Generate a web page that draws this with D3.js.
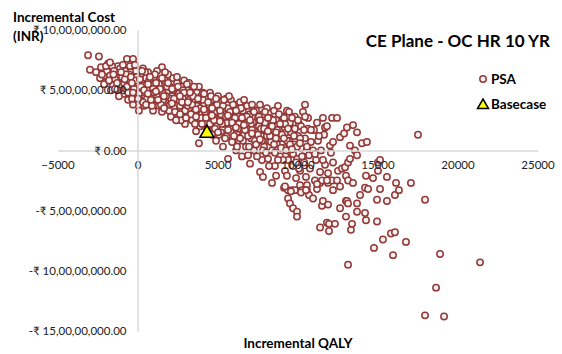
<!DOCTYPE html>
<html>
<head>
<meta charset="utf-8">
<script src="https://cdn.jsdelivr.net/npm/d3@7"></script>
<style>
  body { margin: 0; background: #fff; }
  svg { display: block; font-family: Lato, "Liberation Sans", sans-serif; }
</style>
</head>
<body>
<svg></svg>
<script>
// chart values: incremental QALY and incremental cost (in crore INR)
var xTicks = [-5000, 0, 5000, 10000, 15000, 20000, 25000];
var yTicks = [10, 5, 0, -5, -10, -15];

var basecase = [[4340, 1.5]];

var psaPoints = [
  [-3090,7.9],[-2410,7.8],[-2970,6.7],[-2280,6.9],[-2090,6.2],[-1840,7.2],[-1220,7.0],[-660,7.6],[-280,7.6],[1530,6.9],
  [-2590,6.5],[-2340,6.0],[-2030,5.6],[-1910,6.6],[-1720,6.2],[-1590,7.0],[-1530,5.4],[-1410,5.9],[-1340,6.5],[-1220,5.0],
  [-1090,6.8],[-1030,5.5],[-970,6.1],[-840,4.7],[-780,6.6],[-720,5.1],[-660,5.8],[-590,4.2],[-530,6.3],[-470,4.7],
  [-410,5.4],[-340,7.0],[-280,3.8],[-220,6.0],[-160,4.5],[-90,6.6],[-30,5.1],[30,5.6],[90,3.3],[160,4.2],
  [220,6.2],[280,4.8],[340,6.8],[410,3.7],[470,5.4],[530,6.0],[590,4.3],[660,6.5],[720,5.0],[780,3.8],
  [840,5.6],[910,4.6],[970,3.3],[1030,6.1],[1090,5.1],[1160,4.2],[1220,6.6],[1280,5.5],[1340,3.7],[1410,4.6],
  [1470,5.8],[1530,3.2],[1590,5.1],[1660,4.2],[1720,5.8],[1780,3.5],[1840,4.8],[1910,6.3],[1970,4.0],[2030,5.3],
  [2090,2.8],[2160,4.5],[2220,6.0],[2280,3.5],[2340,5.0],[2410,4.2],[2470,5.6],[2530,2.7],[2590,4.7],[2660,3.7],
  [2720,5.3],[2780,3.2],[2840,4.3],[2910,5.8],[2970,2.2],[3030,3.8],[3090,5.0],[3160,2.8],[3220,5.6],[3280,3.5],
  [3340,4.5],[3410,2.5],[3470,5.1],[3530,3.2],[3590,4.2],[3660,1.6],[3720,4.8],[3780,2.7],[3840,0.6],[3840,3.7],
  [3910,2.0],[3970,4.5],[4030,3.0],[4090,4.8],[4160,3.8],[4220,2.3],[4280,3.3],[4340,4.3],[4410,1.8],[4470,2.8],
  [4530,4.8],[4590,3.7],[4660,1.3],[4720,2.3],[4780,4.2],[4840,3.2],[4910,0.8],[4970,2.0],[5030,4.5],[5090,3.5],
  [5160,2.7],[5220,1.5],[5280,4.0],[5340,0.3],[5410,3.0],[5470,2.2],[5530,4.3],[5590,1.2],[5660,3.5],[5660,-0.7],
  [5720,2.5],[5780,1.8],[5840,4.2],[5910,0.7],[5970,3.2],[6030,2.2],[6090,3.8],[6160,0.0],[6220,1.5],[6280,2.8],
  [6340,0.8],[6410,4.0],[6470,2.0],[6530,-0.5],[6590,3.3],[6660,1.3],[6720,2.5],[6780,0.3],[6840,3.7],[6910,-0.4],
  [6970,1.8],[7030,-1.1],[7030,3.0],[7090,1.0],[7160,3.8],[7220,2.3],[7280,0.0],[7340,1.5],[7410,3.3],[7470,0.7],
  [7530,2.7],[7590,2.0],[7660,-1.8],[7660,3.8],[7720,1.2],[7780,-0.8],[7840,-2.2],[7840,3.0],[7910,0.3],[7970,2.3],
  [8030,1.7],[8090,3.5],[8160,-0.7],[8220,0.8],[8280,2.7],[8340,2.0],[8410,-2.7],[8410,0.0],[8470,1.3],[8530,3.3],
  [8590,-1.3],[8660,-2.1],[8660,2.5],[8720,0.5],[8780,3.7],[8840,1.7],[8910,-0.5],[8970,1.0],[9030,2.8],[9090,2.2],
  [9160,-3.1],[9160,0.2],[9220,-1.7],[9280,1.5],[9340,-2.1],[9340,3.3],[9410,-3.3],[9410,-4.0],[9410,-0.8],[9470,0.8],
  [9530,-4.4],[9530,2.3],[9590,-0.2],[9660,-3.3],[9660,1.7],[9720,-4.8],[9720,-1.3],[9780,0.5],[9840,-3.3],[9840,2.8],
  [9910,-2.3],[9970,-5.1],[9970,-5.5],[9970,-0.7],[10030,1.2],[10090,2.2],[10160,-2.9],[10160,-1.7],[10220,0.2],[10280,-3.3],
  [10340,3.2],[10410,-1.0],[10470,3.8],[10470,1.0],[10530,-2.2],[10590,-2.9],[10590,-3.3],[10660,1.8],[10660,2.7],[10720,-0.4],
  [10720,-3.7],[10780,-1.5],[10840,0.7],[10970,-4.0],[10970,0.0],[11030,1.7],[11090,-2.5],[11160,-0.8],[11220,-3.2],[11220,2.3],
  [11280,0.8],[11410,-2.7],[11410,-6.4],[11410,-1.8],[11470,0.0],[11530,-2.5],[11530,-4.6],[11590,2.7],[11590,-4.2],[11660,1.3],
  [11720,1.9],[11720,-1.2],[11840,-6.0],[11910,-2.7],[11910,-4.5],[11970,-6.1],[11970,-6.7],[12030,0.4],[12160,2.7],[12160,-2.5],
  [12220,0.7],[12220,-1.0],[12340,-6.1],[12470,2.7],[12470,-2.5],[12530,-1.7],[12660,1.1],[12660,-4.8],[12780,-1.5],[12910,1.4],
  [12970,-1.4],[13030,-2.1],[13030,-4.2],[13030,-5.5],[13090,1.9],[13090,-4.2],[13160,-2.5],[13160,-4.4],[13160,-1.0],[13280,0.4],
  [13280,-0.7],[13340,-6.6],[13410,-6.1],[13470,2.1],[13470,-2.7],[13590,0.0],[13720,1.5],[13720,-0.4],[13720,-4.4],[13720,-5.1],
  [13910,-3.7],[14030,0.6],[14220,-3.1],[14220,-5.2],[14280,-2.1],[14280,-5.8],[14340,0.7],[14410,-3.2],[14720,-2.3],[14780,-8.1],
  [14970,-4.1],[14970,-5.9],[15030,-1.0],[15030,-1.7],[15160,-0.8],[15160,-3.2],[15340,-7.4],[15590,-2.2],[15590,-4.2],[15840,-6.9],
  [15970,-8.7],[16090,-6.8],[16090,-3.7],[16160,-2.7],[16340,-3.3],[16780,-7.6],[17090,-2.7],[17530,1.3],[17970,-4.1],[17970,-13.7],
  [18660,-11.4],[18910,-8.6],[19160,-13.8],[21410,-9.3],[13160,-9.5],[12220,-3.3],[12660,-3.0],[11220,-2.8],[11840,-2.5],[11910,-1.9],
  [10220,-3.5],[9590,-3.4],[9220,-3.0],[10530,-3.3],
  [-2220,6.3],[-2090,5.5],[-1970,7.0],[-1780,5.8],[-1660,5.0],[-1470,6.6],[-1280,5.6],[-1160,4.5],[-910,7.1],[-840,5.6],
  [-720,6.3],[-590,4.8],[-470,7.0],[-340,4.3],[-220,5.1],[-160,7.1],[-30,6.1],[90,4.7],[220,5.3],[340,4.0],
  [470,6.5],[590,5.0],[720,5.8],[840,4.2],[970,5.1],[1090,6.3],[1220,4.5],[1340,5.5],[1470,3.8],[1590,4.7],
  [1720,6.5],[1840,5.3],[1970,3.3],[2090,4.3],[2220,5.0],[2340,3.2],[2470,6.1],[2590,4.2],[2720,2.5],[2840,5.0],
  [2970,3.3],[3090,5.5],[3220,4.2],[3340,3.0],[3470,4.5],[3590,2.2],[3720,3.7],[3840,5.3],[3970,2.7],[4090,4.2],
  [4220,3.2],[4340,1.7],[4470,3.8],[4590,4.5],[4720,2.8],[4840,1.8],[4970,3.8],[5090,1.3],[5220,3.0],[5340,3.7],
  [5470,1.0],[5590,2.3],[5720,4.5],[5840,1.5],[5970,3.8],[6090,2.7],[6220,0.3],[6340,2.2],[6470,3.5],[6590,0.8],
  [6720,1.7],[6840,2.8],[6970,0.3],[7090,2.2],[7220,3.3],[7340,0.8],[7470,-0.5],[7590,2.8],[7720,1.8],[7840,0.0],
  [7970,3.2],[8090,1.2],[8220,-1.3],[8340,0.7],[8470,2.5],[8590,-0.2],[8720,1.7],[8840,3.0],[8970,0.2],[9090,-0.8],
  [9220,2.2],[9340,0.8],[9470,3.2],[9590,1.5],[9720,-0.3],[9840,1.8],[9970,0.3],[10090,-1.5],[10220,2.0],[10340,-0.5],
  [10470,2.8],[10590,0.3],[10840,1.7],[11090,-0.3],[11340,1.2],[11590,-0.8],[11840,2.0],[12090,-0.2],
  [-1720,7.3],[-1410,5.1],[-1030,6.5],[-660,5.3],[-410,6.1],[-280,4.8],[-90,5.8],[30,4.3],[280,6.6],[410,5.0],
  [530,3.8],[660,5.5],[780,6.1],[910,3.7],[1030,4.8],[1160,5.6],[1280,4.2],[1410,5.1],[1530,6.0],[1660,3.5],
  [1780,4.5],[1910,5.6],[2030,3.8],[2160,5.1],[2280,4.3],[2410,2.5],[2530,5.3],[2660,3.0],[2780,4.0],[2910,4.8],
  [3030,2.7],[3160,3.7],[3280,4.8],[3410,3.8],[3530,5.3],[3660,2.8],[3780,4.3],[3910,3.5],[4030,2.2],[4160,4.7],
  [4280,2.7],[4410,4.0],[4530,2.2],[4660,3.5],[4780,2.5],[4910,4.3],[5030,1.5],[5160,3.3],[5280,2.2],[5410,4.2],
  [5530,2.8],[5660,1.7],[5780,3.2],[5910,2.3],[6030,1.2],[6160,3.3],[6280,1.8],[6410,1.0],[6530,2.7],[6660,4.2],
  [6780,2.2],[6910,1.2],[7030,2.5],[7160,1.7],[7280,3.2],[7410,0.5],[7530,1.3],[7660,2.5],[7780,0.8],[7910,1.8],
  [8030,-0.2],[8160,2.7],[8280,1.2],[8410,2.0],[8530,0.5],[8660,1.5],[8780,-0.8],[8910,2.2],[9030,1.3],[9160,2.7],
  [9280,0.0],[9410,1.8],[9530,0.5],[9660,2.7],[9780,1.2],[9910,-1.0],[10030,2.5],[10160,1.0],[10280,-0.5],[10410,1.7],
  [-1500,6.3],[-800,5.9],[-350,5.6],[150,5.9],[650,4.7],[1150,4.9],[1650,4.5],[2150,3.9],[2650,4.5],[3150,4.0],
  [3650,3.4],[4150,3.4],[4650,2.9],[5150,2.4],[5650,2.9],[6150,1.9],[6650,2.1],[7150,1.4],[7650,0.9],[8150,1.6],
  [8650,1.0],[9150,1.0],[9650,0.1],[10150,0.6]
];

var width = 562, height = 354;

var svg = d3.select("svg")
    .attr("width", width)
    .attr("height", height);

svg.append("rect").attr("width", width).attr("height", height).attr("fill", "#fff");

var x = d3.scaleLinear().domain([-5000, 25000]).range([57.5, 537.5]);
var y = d3.scaleLinear().domain([-15, 10]).range([331, 30]);

// indian number grouping, value given in crore
function inr(v) {
    var n = Math.round(Math.abs(v) * 1e7);
    var s = String(n);
    var out = s;
    if (s.length > 3) {
        var last = s.slice(-3), rest = s.slice(0, -3);
        rest = rest.replace(/\B(?=(\d{2})+(?!\d))/g, ",");
        out = rest + "," + last;
    }
    return (v < 0 ? "-\u20B9 " : "\u20B9 ") + out + ".00";
}

var xAxis = svg.append("g")
    .attr("transform", "translate(0," + y(0) + ")")
    .call(d3.axisBottom(x).tickValues(xTicks).tickSize(0).tickPadding(10).tickFormat(d3.format("d")));

var yAxis = svg.append("g")
    .attr("transform", "translate(" + x(0) + ",0)")
    .call(d3.axisLeft(y).tickValues(yTicks).tickSize(0).tickPadding(11).tickFormat(inr));

[xAxis, yAxis].forEach(function(g) {
    g.select(".domain").attr("stroke", "#d9d9d9").attr("stroke-width", 1.5);
    g.selectAll("text").attr("font-size", 11.5).attr("fill", "#222").attr("font-family", "Lato, sans-serif");
});

// points
var pts = svg.append("g");
pts.selectAll("circle")
    .data(psaPoints)
    .enter()
    .append("circle")
    .attr("cx", function(d) { return x(d[0]); })
    .attr("cy", function(d) { return y(d[1]); })
    .attr("r", 3.2)
    .attr("fill", "#f2f2f2")
    .attr("stroke", "#953735")
    .attr("stroke-width", 1.5);

// axis labels on top of the points
xAxis.raise();
yAxis.raise();

// basecase
svg.append("g").selectAll("path")
    .data(basecase)
    .enter()
    .append("path")
    .attr("d", function(d) {
        var cx = x(d[0]), cy = y(d[1]);
        return "M" + cx + "," + (cy - 7) + "L" + (cx + 7) + "," + (cy + 5) + "L" + (cx - 7) + "," + (cy + 5) + "Z";
    })
    .attr("fill", "#ffff00")
    .attr("stroke", "#000")
    .attr("stroke-width", 1.5);

// titles
svg.append("text")
    .attr("x", 550).attr("y", 47)
    .attr("text-anchor", "end")
    .attr("font-size", 17).attr("font-weight", "bold")
    .text("CE Plane - OC HR 10 YR");

svg.append("text")
    .attr("x", 13).attr("y", 22)
    .attr("font-size", 13.5).attr("font-weight", "bold")
    .text("Incremental Cost");
svg.append("text")
    .attr("x", 13).attr("y", 41)
    .attr("font-size", 13.5).attr("font-weight", "bold")
    .text("(INR)");

svg.append("text")
    .attr("x", 298).attr("y", 348)
    .attr("text-anchor", "middle")
    .attr("font-size", 13.5).attr("font-weight", "bold")
    .text("Incremental QALY");

// legend
var legend = svg.append("g");
legend.append("circle")
    .attr("cx", 483).attr("cy", 79).attr("r", 3.2)
    .attr("fill", "#f2f2f2").attr("stroke", "#953735").attr("stroke-width", 1.5);
legend.append("text")
    .attr("x", 491).attr("y", 84)
    .attr("font-size", 13.5).attr("font-weight", "bold")
    .text("PSA");
legend.append("path")
    .attr("d", "M483,99L488.5,108.5L477.5,108.5Z")
    .attr("fill", "#ffff00").attr("stroke", "#000").attr("stroke-width", 1.5);
legend.append("text")
    .attr("x", 491).attr("y", 109)
    .attr("font-size", 13.5).attr("font-weight", "bold")
    .text("Basecase");
</script>
</body>
</html>
